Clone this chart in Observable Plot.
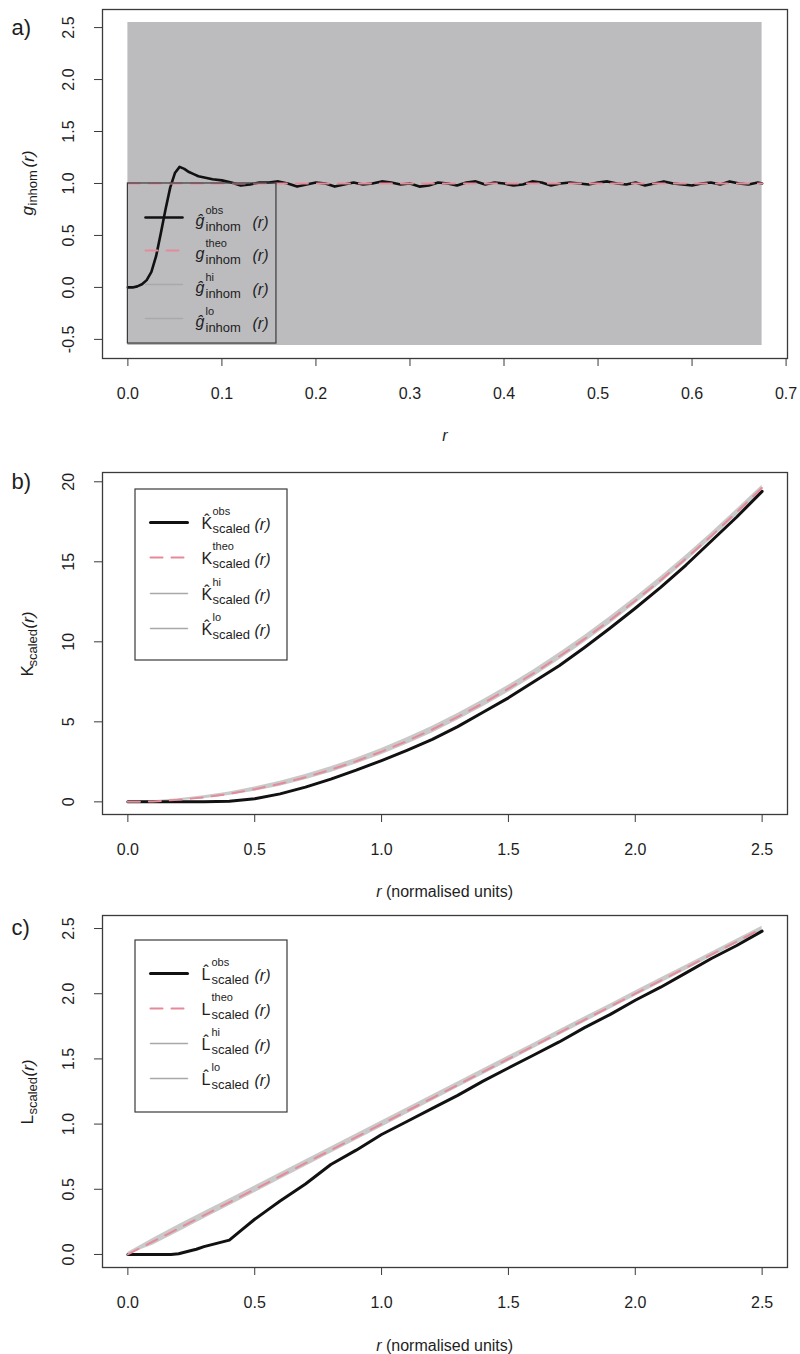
<!DOCTYPE html>
<html><head><meta charset="utf-8">
<script src="https://cdn.jsdelivr.net/npm/d3@7"></script>
<script src="https://cdn.jsdelivr.net/npm/@observablehq/plot@0.6"></script>
<style>
html,body{margin:0;padding:0;background:#fff;}
#chart{width:800px;}
#chart svg{display:block;}
</style></head><body><div id="chart"></div>
<script>
// ---------- Panel a: g_inhom(r) ----------
const rA = [0,0.005,0.01,0.015,0.02,0.025,0.03,0.035,0.04,0.045,0.05,0.055,0.06,0.065,0.07,0.075,0.08,0.09,0.10,0.11,0.12,0.13,0.14,0.15,0.16,0.17,0.18,0.19,0.20,0.21,0.22,0.23,0.24,0.25,0.26,0.27,0.28,0.29,0.30,0.31,0.32,0.33,0.34,0.35,0.36,0.37,0.38,0.39,0.40,0.41,0.42,0.43,0.44,0.45,0.46,0.47,0.48,0.49,0.50,0.51,0.52,0.53,0.54,0.55,0.56,0.57,0.58,0.59,0.60,0.61,0.62,0.63,0.64,0.65,0.66,0.67,0.6745];
const gObs = [0.00,0.00,0.01,0.03,0.07,0.15,0.30,0.52,0.75,0.96,1.10,1.16,1.14,1.11,1.09,1.07,1.06,1.04,1.03,1.01,0.98,0.99,1.01,1.01,1.02,1.00,0.97,0.99,1.01,1.00,0.97,0.99,1.01,0.99,1.00,1.02,1.01,0.99,1.00,0.97,0.98,1.01,1.00,0.98,1.01,1.02,0.99,1.01,1.00,0.98,0.99,1.02,1.01,0.98,1.00,1.01,1.00,0.99,1.01,1.02,1.00,0.99,1.01,0.98,1.00,1.02,1.00,0.99,0.98,1.00,1.01,0.99,1.02,1.00,0.99,1.01,1.00];
const rAEnv = [0, 0.6745];
const gTheo = [1.00, 1.00];
const gHi = [2.55, 2.55];
const gLo = [-0.56, -0.56];

// ---------- Panel b: K_scaled(r) ----------
const rB = [0,0.1,0.2,0.3,0.4,0.5,0.6,0.7,0.8,0.9,1.0,1.1,1.2,1.3,1.4,1.5,1.6,1.7,1.8,1.9,2.0,2.1,2.2,2.3,2.4,2.5];
const kTheo = [0,0.03,0.13,0.28,0.50,0.79,1.13,1.54,2.01,2.54,3.14,3.80,4.52,5.31,6.16,7.07,8.04,9.08,10.18,11.34,12.57,13.85,15.21,16.62,18.10,19.63];
const kHi = [0.02,0.07,0.20,0.38,0.62,0.93,1.29,1.71,2.19,2.73,3.34,4.00,4.73,5.52,6.38,7.29,8.26,9.30,10.40,11.56,12.78,14.06,15.41,16.82,18.29,19.79];
const kLo = [0,0,0.07,0.19,0.39,0.66,0.98,1.38,1.84,2.36,2.95,3.60,4.31,5.10,5.94,6.85,7.82,8.86,9.96,11.12,12.36,13.64,15.00,16.42,17.90,19.45];
const kObs = [0,0,0,0.01,0.04,0.20,0.50,0.92,1.42,1.98,2.58,3.22,3.90,4.70,5.60,6.50,7.50,8.50,9.65,10.85,12.10,13.40,14.80,16.30,17.80,19.40];

// ---------- Panel c: L_scaled(r) ----------
const rC = [0,0.1,0.2,0.3,0.4,0.5,0.6,0.7,0.8,0.9,1.0,1.1,1.2,1.3,1.4,1.5,1.6,1.7,1.8,1.9,2.0,2.1,2.2,2.3,2.4,2.5];
const lTheo = [0,0.1,0.2,0.3,0.4,0.5,0.6,0.7,0.8,0.9,1.0,1.1,1.2,1.3,1.4,1.5,1.6,1.7,1.8,1.9,2.0,2.1,2.2,2.3,2.4,2.5];
const lHi = [0.015,0.125,0.228,0.327,0.426,0.526,0.625,0.725,0.824,0.924,1.024,1.123,1.223,1.322,1.422,1.522,1.621,1.721,1.821,1.920,2.020,2.120,2.219,2.319,2.418,2.518];
const lLo = [0,0.072,0.172,0.273,0.374,0.474,0.575,0.675,0.776,0.876,0.976,1.077,1.177,1.278,1.378,1.478,1.579,1.679,1.779,1.880,1.980,2.080,2.181,2.281,2.382,2.482];
const rCObs = [0,0.1,0.17,0.2,0.25,0.27,0.3,0.35,0.4,0.45,0.5,0.55,0.6,0.7,0.8,0.9,1.0,1.1,1.2,1.3,1.4,1.5,1.6,1.7,1.8,1.9,2.0,2.1,2.2,2.3,2.4,2.5];
const lObs = [0,0,0,0.005,0.03,0.04,0.06,0.085,0.11,0.19,0.27,0.34,0.41,0.54,0.69,0.80,0.92,1.02,1.12,1.22,1.33,1.43,1.53,1.63,1.74,1.84,1.95,2.05,2.16,2.27,2.37,2.48];

// ---------- ticks & labels ----------
const xTicksA = [0,0.1,0.2,0.3,0.4,0.5,0.6,0.7];
const yTicksA = [-0.5,0,0.5,1,1.5,2,2.5];
const xTicksBC = [0,0.5,1,1.5,2,2.5];
const yTicksB = [0,5,10,15,20];
const yTicksC = [0,0.5,1,1.5,2,2.5];
const panelTags = ["a)", "b)", "c)"];
const legendA = [
  {base: "ĝ", sup: "obs", sub: "inhom"},
  {base: "g", sup: "theo", sub: "inhom"},
  {base: "ĝ", sup: "hi", sub: "inhom"},
  {base: "ĝ", sup: "lo", sub: "inhom"}
];
const legendB = [
  {base: "K̂", sup: "obs", sub: "scaled"},
  {base: "K", sup: "theo", sub: "scaled"},
  {base: "K̂", sup: "hi", sub: "scaled"},
  {base: "K̂", sup: "lo", sub: "scaled"}
];
const legendC = [
  {base: "L̂", sup: "obs", sub: "scaled"},
  {base: "L", sup: "theo", sub: "scaled"},
  {base: "L̂", sup: "hi", sub: "scaled"},
  {base: "L̂", sup: "lo", sub: "scaled"}
];

const FONT = "'Liberation Sans', Arial, Helvetica, sans-serif";
const INK = "#1e1e1e";
const PINK = "#e58a99";
const fmt1 = d => d.toFixed(1);
const fmt0 = d => String(d);

function mkPanel(o) {
  const P = Object.assign({left: 102, right: 787}, o);
  P.ft = P.y0 + P.mt; P.fb = P.y0 + P.height - P.mb;
  P.fx = px => P.xd[0] + (px - P.left) / (P.right - P.left) * (P.xd[1] - P.xd[0]);
  P.fy = py => P.yd[1] - (py - P.ft) / (P.fb - P.ft) * (P.yd[1] - P.yd[0]);
  return P;
}
function T(P, str, px, py, o = {}) {
  return Plot.text([str], {
    frameAnchor: "top-left", dx: px - P.left, dy: py - P.ft, text: d => d,
    fontSize: o.size ?? 16, fontStyle: o.italic ? "italic" : "normal",
    textAnchor: o.anchor ?? "start", lineAnchor: o.line ?? "middle",
    rotate: o.rotate ?? 0, fill: o.fill ?? INK, fontFamily: FONT
  });
}
function seg(P, xa, xb, py, style) {
  const y = P.fy(py);
  return Plot.line([[P.fx(xa), y], [P.fx(xb), y]], Object.assign({x: d => d[0], y: d => d[1]}, style));
}
function legend(P, entries, L, styles) {
  const marks = [];
  if (L.box) {
    const b = L.box;
    marks.push(Plot.rect([{x1: b.x1, x2: b.x2, y1: b.y1, y2: b.y2}],
      {x1: "x1", x2: "x2", y1: "y1", y2: "y2", fill: L.fill, stroke: "#3a3a3a", strokeWidth: 1.2}));
  }
  entries.forEach((e, i) => {
    const y = L.ys[i];
    marks.push(seg(P, L.sx[0], L.sx[1], y, styles[i]));
    marks.push(T(P, e.base, L.baseX, y + L.dBase, {size: 16, italic: L.italic}));
    marks.push(T(P, e.sup, L.scrX, y + L.dSup, {size: 11}));
    marks.push(T(P, e.sub, L.scrX, y + L.dSub, {size: 13}));
    marks.push(T(P, "(r)", L.parX, y + L.dPar, {size: 16, italic: true}));
  });
  return marks;
}
function yTitle(P, base, sub, italicBase, cy) {
  const start = cy + 33;
  return [
    T(P, base, 27, start, {size: 17, italic: italicBase, rotate: -90}),
    T(P, sub, 32, start - 10, {size: 13, rotate: -90}),
    T(P, "(r)", 28, start - 10 - 38, {size: 17, italic: true, rotate: -90})
  ];
}
function axes(P, xt, yt, fx, fy) {
  return [
    Plot.frame({stroke: "#3a3a3a", strokeWidth: 1.3}),
    Plot.axisX({ticks: xt, tickSize: 8, tickPadding: 21, tickFormat: fx, label: null,
      stroke: "#3a3a3a", fill: INK, fontSize: 16, fontFamily: FONT}),
    Plot.axisY({ticks: yt, tickSize: 8, tickPadding: 21, tickRotate: -90, tickFormat: fy, label: null,
      stroke: "#3a3a3a", fill: INK, fontSize: 16, fontFamily: FONT})
  ];
}
function plotIt(P, marks) {
  return Plot.plot({
    width: 800, height: P.height,
    marginLeft: P.left, marginRight: 800 - P.right, marginTop: P.mt, marginBottom: P.mb,
    x: {domain: P.xd}, y: {domain: P.yd},
    style: {fontFamily: FONT, fontSize: "16px", background: "#fff", color: INK},
    marks
  });
}

const sObs = {stroke: "#111", strokeWidth: 3};
const sTheo = {stroke: PINK, strokeWidth: 2, strokeDasharray: "12,9"};
const sEnv = {stroke: "#a9a9a9", strokeWidth: 1.5};

// ----- Panel a -----
const A = mkPanel({y0: 0, height: 450, mt: 9, mb: 92, xd: [-0.027, 0.7015], yd: [-0.684, 2.674]});
const envA = rAEnv.map((r, i) => ({r, hi: gHi[i], lo: gLo[i], th: gTheo[i]}));
const obsA = rA.map((r, i) => ({r, v: gObs[i]}));
const plotA = plotIt(A, [
  Plot.areaY(envA, {x: "r", y1: "lo", y2: "hi", fill: "#bcbcbf"}),
  Plot.line(obsA, {x: "r", y: "v", stroke: "#111", strokeWidth: 2.6}),
  Plot.line(envA, {x: "r", y: "th", stroke: PINK, strokeWidth: 2, strokeDasharray: "12,9"}),
  ...legend(A, legendA, {
    box: {x1: 0, x2: 0.158, y1: -0.54, y2: 1.0}, fill: "none",
    ys: [217, 250, 284, 318], sx: [145, 182], baseX: 195, scrX: 205, parX: 252,
    dBase: 3, dSup: -7, dSub: 9, dPar: 5, italic: true
  }, [{stroke: "#111", strokeWidth: 2.6}, sTheo, sEnv, sEnv]),
  ...axes(A, xTicksA, yTicksA, fmt1, fmt1),
  T(A, "r", 444.5, 435, {size: 16, italic: true, anchor: "middle"}),
  ...yTitle(A, "g", "inhom", true, 182),
  T(A, panelTags[0], 11, 27, {size: 22})
]);

// ----- Panel b -----
const B = mkPanel({y0: 450, height: 450, mt: 22, mb: 86, xd: [-0.1, 2.6], yd: [-0.79, 20.58]});
const envB = rB.map((r, i) => ({r, hi: kHi[i], lo: kLo[i], th: kTheo[i], obs: kObs[i]}));
const plotB = plotIt(B, [
  Plot.areaY(envB, {x: "r", y1: "lo", y2: "hi", fill: "#c9c9c9"}),
  Plot.line(envB, {x: "r", y: "obs", ...sObs}),
  Plot.line(envB, {x: "r", y: "th", ...sTheo}),
  ...legend(B, legendB, {
    box: {x1: B.fx(135), x2: B.fx(287), y1: B.fy(660), y2: B.fy(489)}, fill: "#fff",
    ys: [522, 557, 593, 628], sx: [150, 187], baseX: 201, scrX: 212, parX: 254,
    dBase: 1, dSup: -11, dSub: 6, dPar: 2, italic: false
  }, [sObs, sTheo, sEnv, sEnv]),
  ...axes(B, xTicksBC, yTicksB, fmt1, fmt0),
  T(B, "r", 381, 891, {size: 16, italic: true, anchor: "end"}),
  T(B, " (normalised units)", 381, 891, {size: 16}),
  ...yTitle(B, "K", "scaled", false, 643),
  T(B, panelTags[1], 11, 481, {size: 22})
]);

// ----- Panel c -----
const C = mkPanel({y0: 900, height: 454, mt: 15, mb: 87, xd: [-0.1, 2.6], yd: [-0.1, 2.6]});
const envC = rC.map((r, i) => ({r, hi: lHi[i], lo: lLo[i], th: lTheo[i]}));
const obsC = rCObs.map((r, i) => ({r, v: lObs[i]}));
const plotC = plotIt(C, [
  Plot.areaY(envC, {x: "r", y1: "lo", y2: "hi", fill: "#c9c9c9"}),
  Plot.line(obsC, {x: "r", y: "v", ...sObs}),
  Plot.line(envC, {x: "r", y: "th", ...sTheo}),
  ...legend(C, legendC, {
    box: {x1: C.fx(135), x2: C.fx(287), y1: C.fy(1112), y2: C.fy(940)}, fill: "#fff",
    ys: [973, 1008, 1043, 1078], sx: [150, 187], baseX: 201, scrX: 211, parX: 254,
    dBase: 1, dSup: -11, dSub: 6, dPar: 2, italic: false
  }, [sObs, sTheo, sEnv, sEnv]),
  ...axes(C, xTicksBC, yTicksC, fmt1, fmt1),
  T(C, "r", 381, 1345, {size: 16, italic: true, anchor: "end"}),
  T(C, " (normalised units)", 381, 1345, {size: 16}),
  ...yTitle(C, "L", "scaled", false, 1091),
  T(C, panelTags[2], 11, 927, {size: 22})
]);

const root = document.getElementById("chart");
root.append(plotA, plotB, plotC);
</script>
</body></html>
